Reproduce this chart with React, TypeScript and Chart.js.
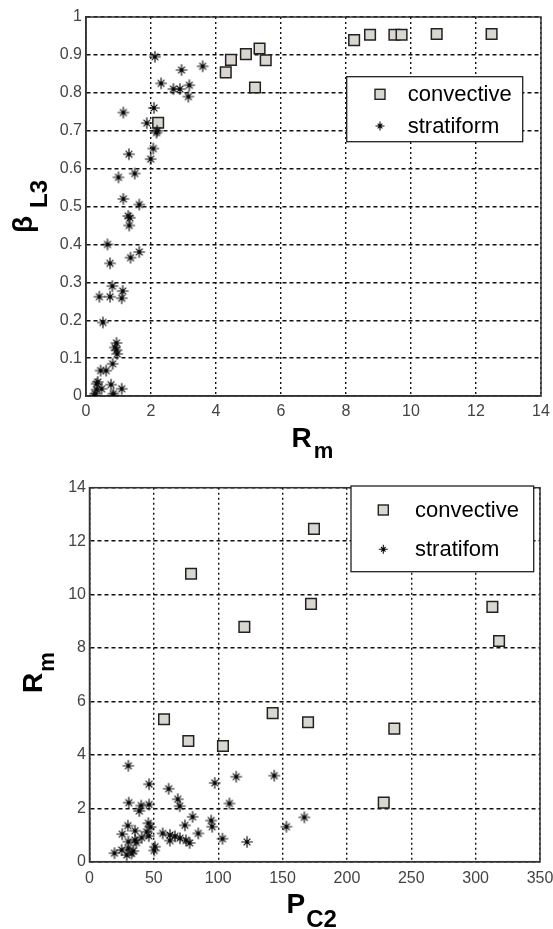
import React, { useEffect, useRef } from 'react';
import { Chart, registerables } from 'chart.js';
Chart.register(...registerables);

// ---------- Top chart data (β_L3 vs R_m) ----------
const topConvRm = [2.22, 4.30, 4.46, 4.92, 5.20, 5.34, 5.53, 8.25, 8.74, 9.49, 9.71, 10.79, 12.48];
const topConvBeta = [0.721, 0.854, 0.887, 0.902, 0.814, 0.917, 0.886, 0.939, 0.953, 0.953, 0.953, 0.955, 0.955];

const topStratRm = [
  2.12, 2.94, 3.59, 2.31, 2.69, 2.89, 3.18, 3.15,
  1.15, 2.09, 1.87, 2.19, 2.17, 2.07, 1.32, 1.99,
  1.00, 1.50, 1.15, 1.64, 1.30, 1.35, 1.33,
  0.66, 0.74, 1.37, 1.64,
  0.81, 0.41, 0.74, 1.13, 1.10,
  0.52,
  0.94, 0.89, 0.94, 0.96, 0.82, 0.45, 0.62,
  0.36, 0.33, 0.48, 0.33, 0.77, 1.10, 0.28, 0.26, 0.84, 0.84,
];
const topStratBeta = [
  0.895, 0.86, 0.87, 0.825, 0.81, 0.81, 0.82, 0.79,
  0.748, 0.76, 0.72, 0.70, 0.695, 0.653, 0.638, 0.625,
  0.577, 0.587, 0.52, 0.505, 0.475, 0.47, 0.45,
  0.40, 0.35, 0.365, 0.38,
  0.29, 0.262, 0.262, 0.277, 0.258,
  0.194,
  0.14, 0.128, 0.121, 0.111, 0.085, 0.067, 0.067,
  0.037, 0.032, 0.019, 0.017, 0.03, 0.019, 0.006, 0.0, 0.006, 0.0,
];

// ---------- Bottom chart data (R_m vs P_C2) ----------
const botConvPc2 = [78.9, 120.3, 174.4, 172.1, 313.0, 318.2, 57.9, 76.8, 103.7, 142.3, 169.8, 236.8, 228.6];
const botConvRm = [10.78, 8.79, 12.46, 9.65, 9.54, 8.26, 5.33, 4.52, 4.33, 5.56, 5.22, 4.98, 2.21];

const botStratPc2 = [
  30.2, 46.3, 61.5, 68.6, 70.1, 97.3, 114.0, 108.7, 143.5, 166.9, 153.0,
  30.5, 38.7, 40.2, 46.3,
  80.1, 74.1, 94.5, 95.3, 122.4, 103.3, 84.5,
  45.7, 44.4, 47.4, 29.8, 25.4, 35.4, 46.1, 56.9, 62.5, 66.4, 70.3, 75.0, 62.4, 77.8,
  50.8, 50.3, 19.4, 25.0, 30.2, 32.7, 34.0, 30.2, 36.4, 28.9, 40.5, 35.4,
];
const botStratRm = [
  3.59, 2.90, 2.73, 2.34, 2.08, 2.95, 3.18, 2.18, 3.22, 1.66, 1.31,
  2.21, 1.90, 2.10, 2.14,
  1.68, 1.36, 1.54, 1.31, 0.74, 0.86, 1.06,
  1.44, 1.12, 1.30, 1.35, 1.03, 1.16, 0.96, 1.06, 1.0, 0.95, 0.88, 0.80, 0.79, 0.70,
  0.56, 0.42, 0.32, 0.44, 0.50, 0.31, 0.40, 0.75, 0.72, 0.25, 0.90, 0.81,
];

const topLegendLabels = ['convective', 'stratiform'];
const botLegendLabels = ['convective', 'stratifom'];

const FONT = "'Liberation Sans', Arial, sans-serif";
const SQUARE_FILL = '#d9d7cf';

const zip = (xs: number[], ys: number[]) => xs.map((x, i) => ({ x, y: ys[i] }));

function drawStar(ctx: CanvasRenderingContext2D, cx: number, cy: number, r: number, rd: number, lw: number, dot: number) {
  ctx.save();
  ctx.strokeStyle = '#111';
  ctx.lineWidth = lw;
  ctx.beginPath();
  ctx.moveTo(cx - r, cy);
  ctx.lineTo(cx + r, cy);
  ctx.moveTo(cx, cy - r);
  ctx.lineTo(cx, cy + r);
  ctx.moveTo(cx - rd, cy - rd);
  ctx.lineTo(cx + rd, cy + rd);
  ctx.moveTo(cx - rd, cy + rd);
  ctx.lineTo(cx + rd, cy - rd);
  ctx.stroke();
  ctx.fillStyle = '#000';
  ctx.beginPath();
  ctx.arc(cx, cy, dot, 0, Math.PI * 2);
  ctx.fill();
  ctx.restore();
}

function makeStarImage(): HTMLCanvasElement {
  const c = document.createElement('canvas');
  c.width = 14;
  c.height = 14;
  const ctx = c.getContext('2d')!;
  drawStar(ctx, 7, 7, 5.8, 3.4, 1.2, 1.6);
  return c;
}

type TitlePart = { text: string; size: number; dy: number; dx?: number };
type AxisTitle = { x: number; y: number; rotate: boolean; parts: TitlePart[] };
type LegendCfg = {
  box: [number, number, number, number];
  markerX: number;
  textX: number;
  rows: number[];
  labels: string[];
};

const decorPlugin = {
  id: 'decor',
  beforeDatasetsDraw(chart: any) {
    const { ctx, chartArea } = chart;
    ctx.save();
    ctx.strokeStyle = '#333';
    ctx.lineWidth = 1.5;
    ctx.setLineDash([]);
    ctx.strokeRect(chartArea.left, chartArea.top, chartArea.right - chartArea.left, chartArea.bottom - chartArea.top);
    ctx.restore();
  },
  afterDraw(chart: any, _args: any, opts: any) {
    const { ctx } = chart;
    (opts.titles as AxisTitle[]).forEach((t) => {
      ctx.save();
      ctx.translate(t.x, t.y);
      if (t.rotate) ctx.rotate(-Math.PI / 2);
      ctx.fillStyle = '#000';
      ctx.textBaseline = 'alphabetic';
      ctx.textAlign = 'left';
      let cx = 0;
      t.parts.forEach((p) => {
        ctx.font = `bold ${p.size}px ${FONT}`;
        cx += p.dx || 0;
        ctx.fillText(p.text, cx, p.dy);
        cx += ctx.measureText(p.text).width;
      });
      ctx.restore();
    });
    const lg = opts.legend as LegendCfg;
    const [x1, y1, x2, y2] = lg.box;
    ctx.save();
    ctx.fillStyle = '#fff';
    ctx.fillRect(x1, y1, x2 - x1, y2 - y1);
    ctx.strokeStyle = '#222';
    ctx.lineWidth = 1.3;
    ctx.strokeRect(x1, y1, x2 - x1, y2 - y1);
    const s = 10;
    ctx.fillStyle = SQUARE_FILL;
    ctx.fillRect(lg.markerX - s / 2, lg.rows[0] - s / 2, s, s);
    ctx.strokeStyle = '#222';
    ctx.lineWidth = 1.4;
    ctx.strokeRect(lg.markerX - s / 2, lg.rows[0] - s / 2, s, s);
    drawStar(ctx, lg.markerX, lg.rows[1], 4.5, 2.3, 1.1, 1.4);
    ctx.fillStyle = '#000';
    ctx.font = `22px ${FONT}`;
    ctx.textBaseline = 'middle';
    ctx.textAlign = 'left';
    lg.labels.forEach((l, i) => ctx.fillText(l, lg.textX, lg.rows[i] + 1));
    ctx.restore();
  },
};

type Cfg = {
  width: number;
  height: number;
  plot: { left: number; top: number; right: number; bottom: number };
  xMax: number;
  xStep: number;
  yMax: number;
  yStep: number;
  conv: { x: number; y: number }[];
  strat: { x: number; y: number }[];
  titles: AxisTitle[];
  legend: LegendCfg;
  yPad: number;
  xPad: number;
};

const fmt = (v: number | string) => String(Math.round(Number(v) * 100) / 100);

function ScatterPanel({ cfg, top }: { cfg: Cfg; top: number }) {
  const ref = useRef<HTMLCanvasElement | null>(null);
  useEffect(() => {
    if (!ref.current) return;
    const { plot } = cfg;
    const tickFont = { family: FONT, size: 16 };
    const chart = new Chart(ref.current, {
      type: 'scatter',
      data: {
        datasets: [
          {
            label: 'convective',
            data: cfg.conv,
            pointStyle: 'rect',
            pointRadius: 7.5,
            backgroundColor: SQUARE_FILL,
            borderColor: '#222',
            borderWidth: 1.5,
            order: 2,
          },
          {
            label: 'stratiform',
            data: cfg.strat,
            pointStyle: makeStarImage(),
            pointRadius: 6,
            order: 1,
          },
        ],
      },
      options: {
        responsive: false,
        animation: false,
        devicePixelRatio: 1,
        layout: { padding: { top: plot.top, right: cfg.width - plot.right, left: 0, bottom: 0 } },
        plugins: {
          legend: { display: false },
          tooltip: { enabled: false },
          decor: { titles: cfg.titles, legend: cfg.legend },
        } as any,
        scales: {
          x: {
            type: 'linear',
            min: 0,
            max: cfg.xMax,
            ticks: { stepSize: cfg.xStep, color: '#444', font: tickFont, padding: cfg.xPad, maxRotation: 0, callback: fmt },
            grid: { color: '#111', lineWidth: 1.4, drawTicks: false },
            border: { display: true, color: '#333', width: 1.5, dash: [2, 3] },
            afterFit: (s: any) => {
              s.height = cfg.height - plot.bottom;
              s.paddingLeft = 0;
              s.paddingRight = 0;
            },
          },
          y: {
            type: 'linear',
            min: 0,
            max: cfg.yMax,
            ticks: { stepSize: cfg.yStep, color: '#444', font: tickFont, padding: cfg.yPad, callback: fmt },
            grid: { color: '#111', lineWidth: 1.4, drawTicks: false },
            border: { display: true, color: '#333', width: 1.5, dash: [4, 3] },
            afterFit: (s: any) => {
              s.width = plot.left;
              s.paddingTop = 0;
              s.paddingBottom = 0;
            },
          },
        },
      },
      plugins: [decorPlugin],
    } as any);
    return () => chart.destroy();
  }, [cfg]);
  return (
    <canvas
      ref={ref}
      width={cfg.width}
      height={cfg.height}
      style={{ position: 'absolute', left: 0, top, width: cfg.width, height: cfg.height }}
    />
  );
}

const topCfg: Cfg = {
  width: 553,
  height: 464,
  plot: { left: 86, top: 17, right: 541, bottom: 396 },
  xMax: 14,
  xStep: 2,
  yMax: 1,
  yStep: 0.1,
  conv: zip(topConvRm, topConvBeta),
  strat: zip(topStratRm, topStratBeta),
  titles: [
    { x: 291.5, y: 446.5, rotate: false, parts: [{ text: 'R', size: 28, dy: 0 }, { text: 'm', size: 22, dy: 11.5, dx: 2 }] },
    { x: 32, y: 233, rotate: true, parts: [{ text: 'β', size: 28, dy: 0 }, { text: 'L3', size: 24, dy: 14.5, dx: 8 }] },
  ],
  legend: { box: [346.7, 76.7, 522.7, 141.7], markerX: 380, textX: 407.7, rows: [94.3, 126], labels: topLegendLabels },
  yPad: 4,
  xPad: 6,
};

const botTop = 464;
const botCfg: Cfg = {
  width: 553,
  height: 465,
  plot: { left: 89.5, top: 487.7 - botTop, right: 540, bottom: 861.7 - botTop },
  xMax: 350,
  xStep: 50,
  yMax: 14,
  yStep: 2,
  conv: zip(botConvPc2, botConvRm),
  strat: zip(botStratPc2, botStratRm),
  titles: [
    { x: 286.5, y: 913 - botTop, rotate: false, parts: [{ text: 'P', size: 28, dy: 0 }, { text: 'C2', size: 24, dy: 14, dx: 1 }] },
    { x: 42, y: 693 - botTop, rotate: true, parts: [{ text: 'R', size: 28, dy: 0 }, { text: 'm', size: 22, dy: 11.5, dx: 1 }] },
  ],
  legend: { box: [351, 486 - botTop, 533.7, 571.7 - botTop], markerX: 383.3, textX: 415, rows: [510 - botTop, 549.3 - botTop], labels: botLegendLabels },
  yPad: 3.5,
  xPad: 7,
};

export default function App() {
  return (
    <div style={{ position: 'absolute', left: 0, top: 0, width: 553, height: 929, background: '#fff' }}>
      <ScatterPanel cfg={topCfg} top={0} />
      <ScatterPanel cfg={botCfg} top={botTop} />
    </div>
  );
}
